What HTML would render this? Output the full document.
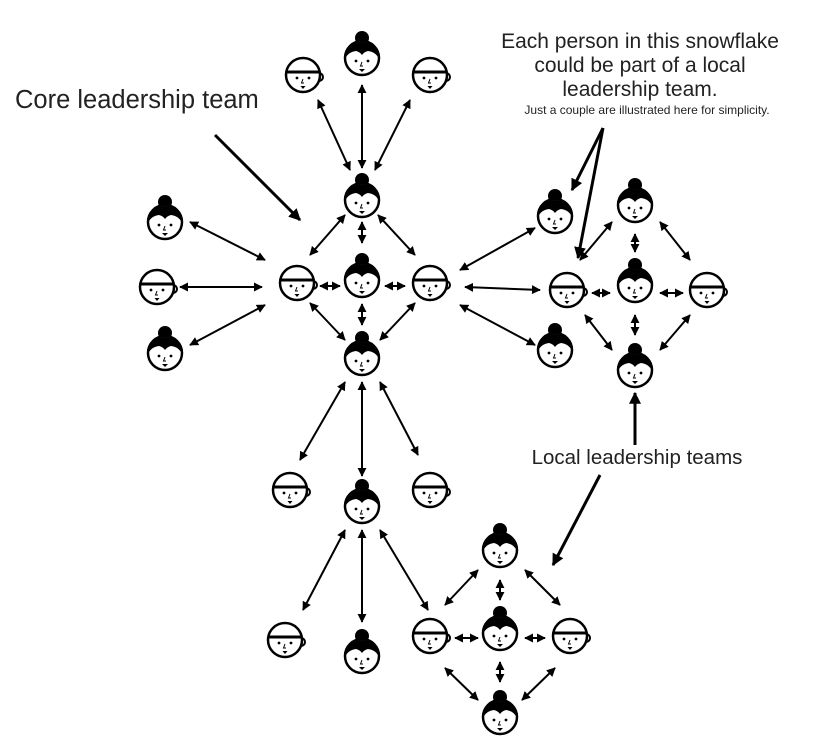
<!DOCTYPE html>
<html><head><meta charset="utf-8"><style>
html,body{margin:0;padding:0;background:#fff;}
svg{display:block;}
text{font-family:"Liberation Sans",sans-serif;fill:#222;}
</style></head><body>
<svg width="828" height="752" viewBox="0 0 828 752" xmlns="http://www.w3.org/2000/svg">
<defs>
<marker id="a" viewBox="0 0 10 10" refX="9" refY="5" markerWidth="4.5" markerHeight="4.5" orient="auto-start-reverse"><path d="M0,0L10,5L0,10z" fill="#000"/></marker>
<marker id="b" viewBox="0 0 10 10" refX="9" refY="5" markerWidth="4" markerHeight="4" orient="auto-start-reverse"><path d="M0,0L10,5L0,10z" fill="#000"/></marker>
<g id="w">
<circle cx="0" cy="-20" r="7" fill="#000"/>
<circle cx="0" cy="0" r="17" fill="#fff" stroke="#000" stroke-width="2.5"/>
<path d="M-17,1 A17,17 0 0 1 17,1 Q14,-6 6,-7 Q2,-6 0,-3 Q-2,-6 -6,-7 Q-14,-6 -17,1z" fill="#000"/>
<circle cx="-6" cy="3" r="1.4" fill="#000"/><circle cx="6" cy="3" r="1.4" fill="#000"/>
<path d="M0,4 L-1.5,8 L1,8" stroke="#000" stroke-width="1" fill="none"/>
<path d="M-3,11 L3,11 L0,14z" fill="#000"/>
</g>
<g id="m">
<path d="M16,-2 a4,4 0 1 1 0,8" fill="none" stroke="#000" stroke-width="2"/>
<circle cx="0" cy="0" r="17" fill="#fff" stroke="#000" stroke-width="2.5"/>
<line x1="-17" y1="-3" x2="17" y2="-3" stroke="#000" stroke-width="3"/>
<circle cx="-6" cy="3" r="1.4" fill="#000"/><circle cx="6" cy="3" r="1.4" fill="#000"/>
<path d="M0,4 L-1.5,8 L1,8" stroke="#000" stroke-width="1" fill="none"/>
<path d="M-2.5,11 L2.5,11 L0,14z" fill="#000"/>
</g>
</defs>

<g stroke="#000" stroke-width="2" marker-start="url(#a)" marker-end="url(#a)">
<line x1="362" y1="85" x2="362" y2="168"/>
<line x1="318" y1="100" x2="350" y2="170"/>
<line x1="410" y1="100" x2="375" y2="170"/>
<line x1="345" y1="215" x2="310" y2="255"/>
<line x1="378" y1="215" x2="415" y2="255"/>
<line x1="362" y1="222" x2="362" y2="243"/>
<line x1="320" y1="286" x2="340" y2="286"/>
<line x1="385" y1="286" x2="405" y2="286"/>
<line x1="362" y1="304" x2="362" y2="325"/>
<line x1="310" y1="303" x2="345" y2="340"/>
<line x1="415" y1="303" x2="380" y2="340"/>
<line x1="190" y1="222" x2="265" y2="260"/>
<line x1="180" y1="287" x2="262" y2="287"/>
<line x1="190" y1="345" x2="265" y2="305"/>
<line x1="460" y1="270" x2="535" y2="228"/>
<line x1="465" y1="287" x2="540" y2="290"/>
<line x1="460" y1="305" x2="535" y2="345"/>
<line x1="345" y1="382" x2="300" y2="460"/>
<line x1="362" y1="382" x2="362" y2="476"/>
<line x1="380" y1="382" x2="418" y2="455"/>
<line x1="345" y1="530" x2="303" y2="610"/>
<line x1="362" y1="530" x2="362" y2="622"/>
<line x1="380" y1="530" x2="428" y2="610"/>
<line x1="580" y1="260" x2="612" y2="222"/>
<line x1="635" y1="234" x2="635" y2="252"/>
<line x1="660" y1="222" x2="690" y2="260"/>
<line x1="592" y1="293" x2="610" y2="293"/>
<line x1="660" y1="293" x2="683" y2="293"/>
<line x1="635" y1="315" x2="635" y2="335"/>
<line x1="585" y1="315" x2="612" y2="350"/>
<line x1="690" y1="315" x2="660" y2="350"/>
<line x1="445" y1="605" x2="478" y2="570"/>
<line x1="500" y1="580" x2="500" y2="600"/>
<line x1="525" y1="570" x2="560" y2="605"/>
<line x1="455" y1="638" x2="478" y2="638"/>
<line x1="525" y1="638" x2="545" y2="638"/>
<line x1="500" y1="662" x2="500" y2="682"/>
<line x1="445" y1="668" x2="478" y2="700"/>
<line x1="555" y1="668" x2="522" y2="700"/>
</g>
<g stroke="#000" stroke-width="3" marker-end="url(#b)">
<line x1="215" y1="135" x2="300" y2="220"/>
<line x1="603" y1="128" x2="572" y2="190"/>
<line x1="603" y1="128" x2="578" y2="258"/>
<line x1="600" y1="475" x2="553" y2="565"/>
<line x1="635" y1="445" x2="635" y2="393"/>
</g>

<use href="#w" x="362" y="58"/>
<use href="#m" x="303" y="75"/>
<use href="#m" x="430" y="75"/>
<use href="#w" x="362" y="200"/>
<use href="#m" x="297" y="283"/>
<use href="#w" x="362" y="280"/>
<use href="#m" x="430" y="283"/>
<use href="#w" x="362" y="358"/>
<use href="#w" x="165" y="222"/>
<use href="#m" x="157" y="287"/>
<use href="#w" x="165" y="353"/>
<use href="#w" x="555" y="216"/>
<use href="#m" x="567" y="290"/>
<use href="#w" x="555" y="350"/>
<use href="#w" x="635" y="205"/>
<use href="#w" x="635" y="285"/>
<use href="#m" x="707" y="290"/>
<use href="#w" x="635" y="370"/>
<use href="#m" x="290" y="490"/>
<use href="#w" x="362" y="506"/>
<use href="#m" x="430" y="490"/>
<use href="#m" x="285" y="640"/>
<use href="#w" x="362" y="656"/>
<use href="#m" x="430" y="636"/>
<use href="#w" x="500" y="550"/>
<use href="#w" x="500" y="633"/>
<use href="#m" x="570" y="636"/>
<use href="#w" x="500" y="717"/>

<text x="15" y="108" font-size="25.5">Core leadership team</text>
<text x="640" y="48" font-size="21" text-anchor="middle">Each person in this snowflake</text>
<text x="640" y="72" font-size="21" text-anchor="middle">could be part of a local</text>
<text x="640" y="96" font-size="21" text-anchor="middle">leadership team.</text>
<text x="647" y="114" font-size="12" text-anchor="middle">Just a couple are illustrated here for simplicity.</text>
<text x="637" y="464" font-size="20.5" text-anchor="middle">Local leadership teams</text>
</svg>
</body></html>
